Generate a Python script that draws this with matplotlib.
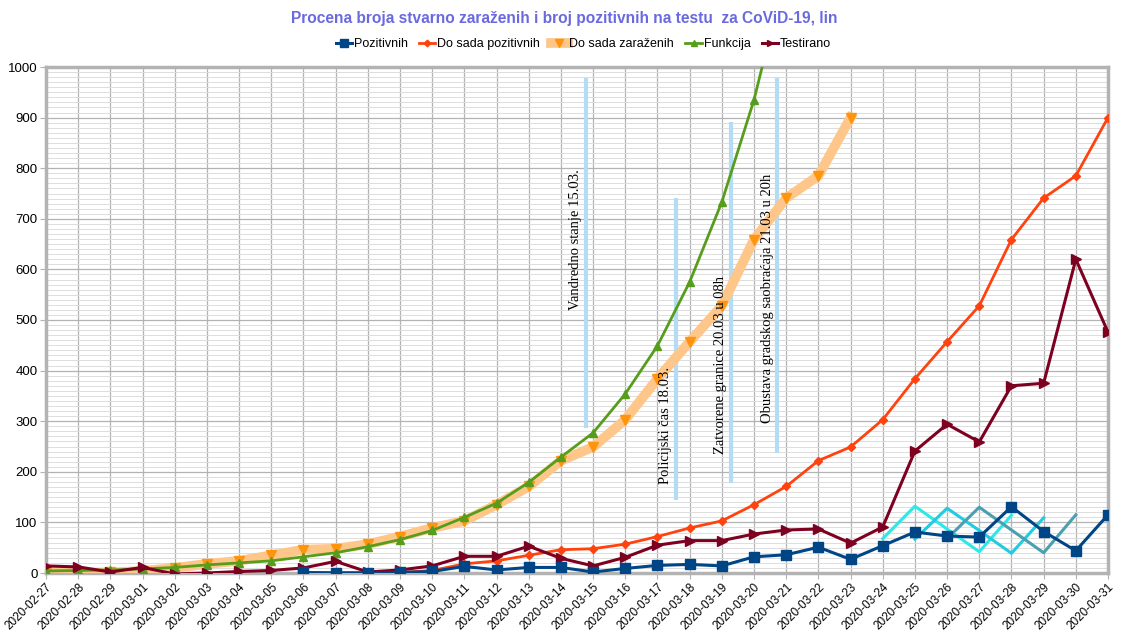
import numpy as np
import pandas as pd
import matplotlib
matplotlib.use("Agg")
import matplotlib.pyplot as plt
from matplotlib.ticker import MultipleLocator

NARROW = ["Liberation Sans Narrow", "Liberation Sans", "DejaVu Sans"]

# dates on the category axis
dates = list(pd.date_range("2020-02-27", "2020-03-31").strftime("%Y-%m-%d"))
y_ticks = list(range(0, 1001, 100))

# series values (start index = first date shown)
pozitivnih_start = "2020-03-06"
pozitivnih = [1, 0, 0, 1, 3, 13, 6, 11, 11, 2, 9, 15, 17, 14, 32, 36, 51, 27,
              54, 81, 73, 71, 131, 82, 44, 115]

do_sada_poz_start = "2020-03-06"
do_sada_pozitivnih = [1, 1, 1, 1, 5, 18, 24, 35, 46, 48, 57, 72, 89, 103, 135,
                      171, 222, 249, 303, 384, 457, 528, 659, 741, 785, 900]

do_sada_zar_start = "2020-02-27"
do_sada_zarazenih = [1, 1, 1, 4, 10, 18, 24, 35, 46, 48, 57, 72, 89, 103, 135,
                     171, 222, 249, 303, 384, 457, 528, 659, 741, 785, 900]

funkcija_start = "2020-02-27"
funkcija = [4, 5, 6, 8, 11, 16, 20, 24, 32, 40, 52, 66, 84, 110, 138, 179, 229,
            277, 354, 449, 575, 733, 935, 1192]

testirano_start = "2020-02-27"
testirano = [14, 12, 2, 11, -2, 0, 3, 5, 10, 23, 2, 6, 14, 33, 33, 53, 29, 14,
             31, 55, 64, 64, 77, 85, 87, 59, 91, 241, 294, 259, 370, 375, 620, 476]

# three unlabelled zigzag helper lines
zig_starts = ["2020-03-24", "2020-03-25", "2020-03-26"]
zig_values = [[68, 132, 87, 42, 114],
              [67, 128, 84, 39, 109],
              [68, 130, 85, 40, 115]]

# event annotations
events = ["Vandredno stanje 15.03.", "Policijski čas 18.03.",
          "Zatvorene granice 20.03 u 08h", "Obustava gradskog saobraćaja 21.03 u 20h"]
event_x = [16.77, 19.57, 21.27, 22.73]
event_y0 = [287, 144, 178, 237]
event_y1 = [978, 741, 891, 978]
event_text_y = [658, 292, 411, 543]


def xs(start, n):
    i0 = dates.index(start)
    return np.arange(i0, i0 + n)


fig = plt.figure(figsize=(11.26, 6.40), dpi=100)
ax = fig.add_axes([46 / 1126, 1 - 573 / 640, (1108 - 46) / 1126, (573 - 67) / 640])

# event lines + texts
for t, x, y0, y1, ty in zip(events, event_x, event_y0, event_y1, event_text_y):
    ax.plot([x, x], [y0, y1], color="#b4dcf5", lw=3, zorder=2, solid_capstyle="butt")
    ax.text(x - 0.32, ty, t, rotation=90, ha="center", va="center",
            fontsize=10.5, family="Liberation Serif", color="black", zorder=6)

# zigzags
zig_colors = ["#2ee8e8", "#22cce0", "#4a9fb0"]
for s, v, c in zip(zig_starts, zig_values, zig_colors):
    ax.plot(xs(s, len(v)), v, color=c, lw=2.2, zorder=3)

ax.plot(xs(do_sada_zar_start, len(do_sada_zarazenih)), do_sada_zarazenih,
        color="#ffc68a", lw=7, marker="v", markersize=7, markerfacecolor="#ff950e",
        markeredgecolor="#ff950e", label="Do sada zaraženih", zorder=4)
ax.plot(xs(funkcija_start, len(funkcija)), funkcija, color="#579d1c", lw=2,
        marker="^", markersize=6, label="Funkcija", zorder=5)
ax.plot(xs(do_sada_poz_start, len(do_sada_pozitivnih)), do_sada_pozitivnih,
        color="#ff420e", lw=2, marker="D", markersize=4.5, label="Do sada pozitivnih", zorder=5)
ax.plot(xs(testirano_start, len(testirano)), testirano, color="#7e0021", lw=2.2,
        marker=">", markersize=6.5, label="Testirano", zorder=5)
ax.plot(xs(pozitivnih_start, len(pozitivnih)), pozitivnih, color="#004586", lw=2.2,
        marker="s", markersize=7, label="Pozitivnih", zorder=5)

ax.set_xlim(0, len(dates) - 1)
ax.set_ylim(0, 1000)
ax.set_xticks(range(len(dates)))
ax.set_xticklabels(dates, rotation=45, ha="right", rotation_mode="anchor",
                   fontsize=8.5, family=NARROW)
ax.set_yticks(y_ticks)
ax.set_yticklabels([str(v) for v in y_ticks], fontsize=9.5, family=NARROW)
ax.yaxis.set_minor_locator(MultipleLocator(10))
ax.tick_params(axis="y", length=4, pad=2, color="#b3b3b3")
ax.tick_params(axis="y", which="minor", length=0)
ax.tick_params(axis="x", length=4, color="#b3b3b3", pad=2)
ax.grid(True, which="major", color="#b3b3b3", lw=0.9)
ax.grid(True, which="minor", axis="y", color="#dddddd", lw=0.7)
ax.set_axisbelow(True)
for sp in ax.spines.values():
    sp.set_color("#b3b3b3")
    sp.set_linewidth(2.5)

handles, labels = ax.get_legend_handles_labels()
order = ["Pozitivnih", "Do sada pozitivnih", "Do sada zaraženih", "Funkcija", "Testirano"]
hmap = dict(zip(labels, handles))
fig.legend([hmap[o] for o in order], order, loc="center", bbox_to_anchor=(0.518, 1 - 44 / 640),
           ncol=5, frameon=False, prop={"family": NARROW, "size": 9}, handlelength=1.3,
           handletextpad=0.15, columnspacing=0.9, markerscale=0.75)

fig.text(0.501, 1 - 18 / 640,
         "Procena broja stvarno zaraženih i broj pozitivnih na testu  za CoViD-19, lin",
         ha="center", va="center", fontsize=11.2, fontweight="bold", color="#6a6ae0",
         family="Liberation Sans")

fig.savefig("out.png", dpi=100)
